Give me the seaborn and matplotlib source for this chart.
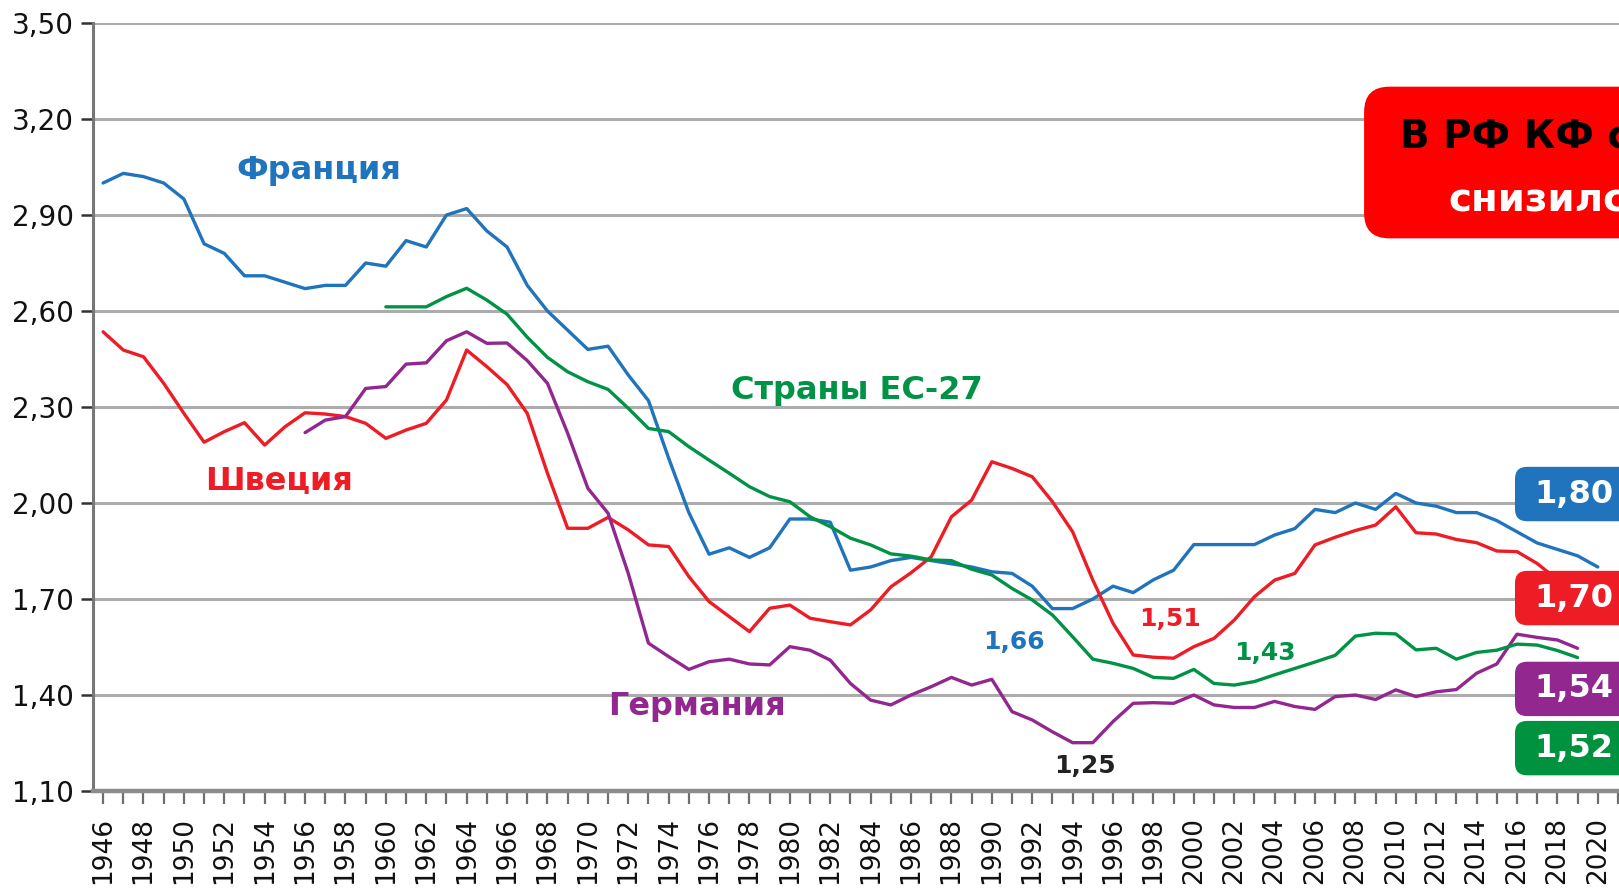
import numpy as np
import pandas as pd
import matplotlib.pyplot as plt
import seaborn as sns
from matplotlib.patches import FancyBboxPatch
from matplotlib.ticker import FuncFormatter

# ---------------------------------------------------------
# Daten: Суммарный коэффициент рождаемости
# ---------------------------------------------------------
years_france = list(range(1946, 2021))
france = [3.00, 3.03, 3.02, 3.00, 2.95, 2.81, 2.78, 2.71, 2.71, 2.69,
          2.67, 2.68, 2.68, 2.75, 2.74, 2.82, 2.80, 2.90, 2.92, 2.85,
          2.80, 2.68, 2.60, 2.54, 2.48, 2.49, 2.40, 2.32, 2.14, 1.97,
          1.84, 1.86, 1.83, 1.86, 1.95, 1.95, 1.94, 1.79, 1.80, 1.82,
          1.83, 1.82, 1.81, 1.80, 1.785, 1.78, 1.74, 1.67, 1.67, 1.70,
          1.74, 1.72, 1.76, 1.79, 1.87, 1.87, 1.87, 1.87, 1.90, 1.92,
          1.98, 1.97, 2.00, 1.98, 2.03, 2.00, 1.99, 1.97, 1.97, 1.945,
          1.91, 1.875, 1.855, 1.835, 1.80]

years_sweden = list(range(1946, 2020))
sweden = [2.535, 2.478, 2.457, 2.374, 2.28, 2.19, 2.223, 2.251, 2.181, 2.238,
          2.282, 2.278, 2.27, 2.249, 2.202, 2.228, 2.249, 2.322, 2.478, 2.426,
          2.37, 2.28, 2.093, 1.921, 1.921, 1.955, 1.916, 1.869, 1.864, 1.77,
          1.692, 1.645, 1.598, 1.671, 1.681, 1.64, 1.629, 1.619, 1.666, 1.738,
          1.782, 1.832, 1.957, 2.009, 2.129, 2.108, 2.082, 2.004, 1.91, 1.759,
          1.624, 1.525, 1.518, 1.515, 1.551, 1.577, 1.634, 1.707, 1.759, 1.78,
          1.869, 1.893, 1.914, 1.931, 1.988, 1.907, 1.903, 1.886, 1.876, 1.85,
          1.848, 1.811, 1.76, 1.70]

years_germany = list(range(1956, 2020))
germany = [2.22, 2.259, 2.27, 2.358, 2.364, 2.434, 2.438, 2.507, 2.535, 2.499,
           2.50, 2.445, 2.374, 2.218, 2.046, 1.968, 1.78, 1.562, 1.52, 1.48,
           1.504, 1.512, 1.497, 1.494, 1.551, 1.54, 1.509, 1.436, 1.384, 1.369,
           1.40, 1.426, 1.455, 1.431, 1.449, 1.348, 1.322, 1.285, 1.251, 1.251,
           1.317, 1.374, 1.376, 1.374, 1.40, 1.369, 1.361, 1.361, 1.38, 1.364,
           1.355, 1.395, 1.40, 1.386, 1.416, 1.395, 1.41, 1.417, 1.468, 1.497,
           1.59, 1.58, 1.572, 1.546]

years_eu = list(range(1960, 2020))
eu27 = [2.613, 2.613, 2.613, 2.645, 2.671, 2.634, 2.59, 2.518, 2.455, 2.41,
        2.379, 2.355, 2.296, 2.233, 2.223, 2.176, 2.134, 2.093, 2.051, 2.02,
        2.004, 1.957, 1.926, 1.89, 1.869, 1.841, 1.834, 1.822, 1.82, 1.793,
        1.775, 1.733, 1.697, 1.65, 1.582, 1.512, 1.499, 1.483, 1.455, 1.452,
        1.48, 1.436, 1.431, 1.442, 1.463, 1.483, 1.503, 1.524, 1.584, 1.593,
        1.591, 1.541, 1.546, 1.512, 1.533, 1.54, 1.559, 1.556, 1.539, 1.517]

countries = ['Франция', 'Швеция', 'Германия', 'Страны ЕС-27']
colors = {'Франция': '#1f74bd', 'Швеция': '#ee1c25',
          'Германия': '#92278f', 'Страны ЕС-27': '#009245'}

# Beschriftungen am rechten Rand (letzte Werte)
badge_texts = ['1,80', '1,70', '1,54', '1,52']
badge_levels = [2.028, 1.703, 1.419, 1.234]
badge_colors = ['#1f74bd', '#ee1c25', '#92278f', '#00923f']

# Minimal-Werte
min_texts = ['1,66', '1,51', '1,43', '1,25']
min_x = [1991.1, 1998.8, 2003.5, 1994.6]
min_y = [1.566, 1.636, 1.530, 1.178]
min_colors = ['#1f74bd', '#ee1c25', '#009245', '#222222']

df = pd.concat([
    pd.DataFrame({'year': years_france, 'tfr': france, 'country': 'Франция'}),
    pd.DataFrame({'year': years_sweden, 'tfr': sweden, 'country': 'Швеция'}),
    pd.DataFrame({'year': years_germany, 'tfr': germany, 'country': 'Германия'}),
    pd.DataFrame({'year': years_eu, 'tfr': eu27, 'country': 'Страны ЕС-27'}),
], ignore_index=True)

sns.set_theme(style="white")
plt.rcParams['font.family'] = ['DejaVu Sans']

fig = plt.figure(figsize=(16.19, 8.89), dpi=100)
fig.patch.set_facecolor('white')
ax = fig.add_axes([93 / 1619, 98 / 889, 1526 / 1619, 768 / 889])

ax.set_axisbelow(True)
ax.grid(axis='y', color='#acacac', linewidth=2.2)
ax.grid(axis='x', visible=False)

sns.lineplot(data=df, x='year', y='tfr', hue='country', hue_order=countries,
             palette=colors, linewidth=2.4, estimator=None, legend=False, ax=ax)

ax.set_xlim(1945.5, 2021.05)
ax.set_ylim(1.10, 3.50)
ax.set_xlabel('')
ax.set_ylabel('')

ax.set_yticks(np.round(np.arange(1.10, 3.51, 0.30), 2))
ax.yaxis.set_major_formatter(FuncFormatter(lambda v, p: f"{v:.2f}".replace('.', ',')))
ax.set_xticks(range(1946, 2021, 2))
ax.set_xticks(range(1946, 2022), minor=True)
ax.tick_params(axis='x', which='both', direction='out', length=9, width=1.6,
               color='#6e6e6e', bottom=True, labelsize=19, labelrotation=90,
               pad=10, labelcolor='#111111')
ax.tick_params(axis='y', direction='out', length=9, width=1.8, color='#333333',
               left=True, labelsize=20, pad=5, labelcolor='#111111')

for s in ['top', 'right']:
    ax.spines[s].set_visible(False)
ax.spines['left'].set_color('#777777')
ax.spines['left'].set_linewidth(2.2)
ax.spines['bottom'].set_color('#8c8c8c')
ax.spines['bottom'].set_linewidth(3.2)

# Ländernamen
ax.text(1956.7, 3.04, 'Франция', color='#1f74bd', fontsize=23, fontweight='bold',
        ha='center', va='center')
ax.text(1954.7, 2.07, 'Швеция', color='#ee1c25', fontsize=23, fontweight='bold',
        ha='center', va='center')
ax.text(1975.4, 1.363, 'Германия', color='#92278f', fontsize=23, fontweight='bold',
        ha='center', va='center')
ax.text(1983.3, 2.353, 'Страны ЕС-27', color='#009245', fontsize=23, fontweight='bold',
        ha='center', va='center')

for t, x, y, c in zip(min_texts, min_x, min_y, min_colors):
    ax.text(x, y, t, color=c, fontsize=18, fontweight='bold', ha='center', va='center')

# Plaketten rechts
aspect = 20.2 / 320
for t, lvl, c in zip(badge_texts, badge_levels, badge_colors):
    box = FancyBboxPatch((2015.9, lvl - 0.085), 12, 0.17,
                         boxstyle='round,pad=0,rounding_size=0.6',
                         mutation_aspect=aspect, fc=c, ec='none',
                         clip_on=False, zorder=5)
    ax.add_patch(box)
    ax.text(2016.85, lvl, t, color='white', fontsize=23, fontweight='bold',
            ha='left', va='center', zorder=6, clip_on=False)

# roter Kasten oben rechts
red_box = FancyBboxPatch((2008.43, 2.827), 20, 0.474,
                         boxstyle='round,pad=0,rounding_size=1.25',
                         mutation_aspect=aspect, fc='#ff0000', ec='none',
                         clip_on=False, zorder=5)
ax.add_patch(red_box)
ax.text(2010.2, 3.108, 'В РФ КФ с 1990 г.', color='black', fontsize=28,
        fontweight='bold', ha='left', va='baseline', zorder=6, clip_on=False)
ax.text(2012.6, 2.910, 'снизился', color='white', fontsize=28,
        fontweight='bold', ha='left', va='baseline', zorder=6, clip_on=False)

plt.savefig("out.png", dpi=100)
plt.close()
